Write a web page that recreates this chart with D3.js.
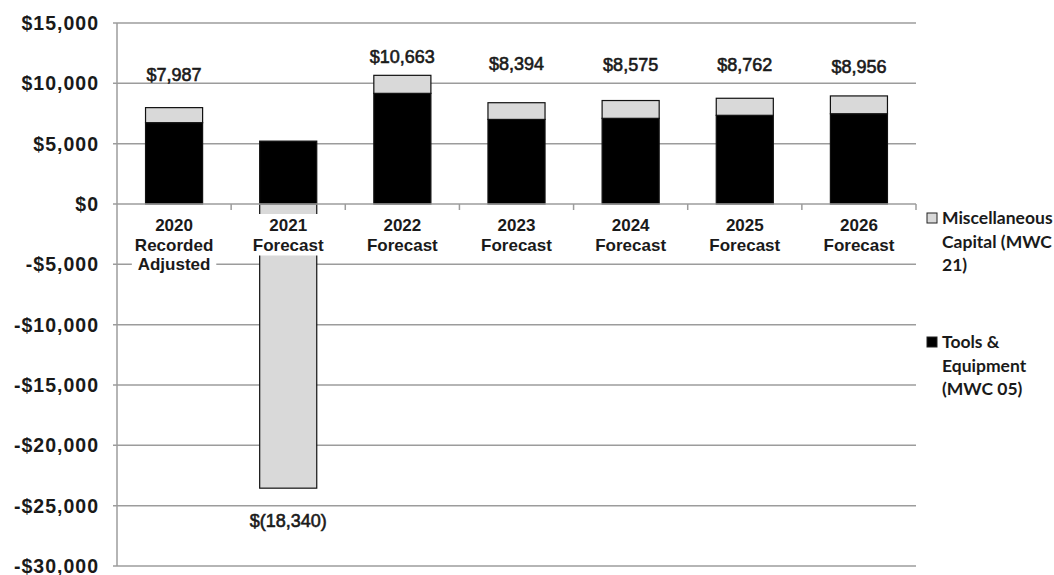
<!DOCTYPE html>
<html>
<head>
<meta charset="utf-8">
<script src="https://cdn.jsdelivr.net/npm/d3@7"></script>
<style>
  body { margin: 0; background: #fff; }
  svg { display: block; }
</style>
</head>
<body>
<svg id="chart" width="1054" height="575"></svg>
<script>
// Capital spending by year (thousands of dollars)
const categories = ["2020\nRecorded\nAdjusted", "2021\nForecast", "2022\nForecast", "2023\nForecast",
                    "2024\nForecast", "2025\nForecast", "2026\nForecast"];
const toolsEquipment = [6740, 5210, 9170, 7010, 7100, 7350, 7480];       // MWC 05
const miscCapital    = [1247, -23550, 1493, 1384, 1475, 1412, 1476];     // MWC 21
const yTicks = [15000, 10000, 5000, 0, -5000, -10000, -15000, -20000, -25000, -30000];
const legendItems = [
  { key: "misc",  lines: ["Miscellaneous", "Capital (MWC", "21)"] },
  { key: "tools", lines: ["Tools &", "Equipment", "(MWC 05)"] }
];

// label gap from the end of each stacked bar, in pixels
const labelGap = [33, 32, 19, 39, 36, 34, 29];

const colors = { tools: "#000000", misc: "#d9d9d9" };
const plot = { left: 117, right: 916, top: 23, bottom: 566 };

const svg = d3.select("#chart");

const rows = categories.map((c, i) => ({ cat: c, tools: toolsEquipment[i], misc: miscCapital[i] }));
const totals = rows.map(r => r.tools + r.misc);

const x = d3.scaleBand()
  .domain(categories)
  .range([plot.left, plot.right])
  .paddingInner(0.5)
  .paddingOuter(0.25);

const y = d3.scaleLinear()
  .domain([d3.min(yTicks), d3.max(yTicks)])
  .range([plot.bottom, plot.top]);

const gridColor = "#9c9c9c";

// horizontal gridlines
svg.append("g")
  .selectAll("line")
  .data(yTicks.filter(v => v !== 0))
  .join("line")
  .attr("x1", plot.left - 4)
  .attr("x2", plot.right)
  .attr("y1", d => y(d))
  .attr("y2", d => y(d))
  .attr("stroke", gridColor)
  .attr("stroke-width", 1.5);

// stacked bars (diverging so the negative portion hangs below zero)
const series = d3.stack()
  .keys(["tools", "misc"])
  .offset(d3.stackOffsetDiverging)(rows);

svg.append("g")
  .selectAll("g")
  .data(series)
  .join("g")
  .attr("fill", d => colors[d.key])
  .selectAll("rect")
  .data(d => d)
  .join("rect")
  .attr("x", d => x(d.data.cat))
  .attr("width", x.bandwidth())
  .attr("y", d => y(Math.max(d[0], d[1])))
  .attr("height", d => Math.abs(y(d[0]) - y(d[1])))
  .attr("stroke", "#111")
  .attr("stroke-width", 1.2);

// category axis along zero
const zeroY = y(0);
svg.append("line")
  .attr("x1", plot.left - 4).attr("x2", plot.right)
  .attr("y1", zeroY).attr("y2", zeroY)
  .attr("stroke", gridColor).attr("stroke-width", 1.5);

svg.append("g")
  .selectAll("line")
  .data(d3.range(1, categories.length + 1))
  .join("line")
  .attr("x1", i => plot.left + i * x.step())
  .attr("x2", i => plot.left + i * x.step())
  .attr("y1", zeroY)
  .attr("y2", zeroY + 6)
  .attr("stroke", gridColor)
  .attr("stroke-width", 1.5);

// category labels on white boxes
const catG = svg.append("g")
  .selectAll("g")
  .data(categories)
  .join("g")
  .attr("transform", d => `translate(${x(d) + x.bandwidth() / 2},${zeroY})`);

const catText = catG.append("text")
  .attr("text-anchor", "middle")
  .attr("font-family", "'Liberation Sans', Arial, sans-serif")
  .attr("font-weight", "bold")
  .attr("font-size", 17)
  .attr("fill", "#1a1a1a");

catText.selectAll("tspan")
  .data(d => d.split("\n"))
  .join("tspan")
  .attr("x", 0)
  .attr("y", (d, i) => 27 + i * 19.5)
  .text(d => d);

catG.each(function () {
  const g = d3.select(this);
  const bb = g.select("text").node().getBBox();
  g.insert("rect", "text")
    .attr("x", bb.x - 3)
    .attr("y", bb.y - 2)
    .attr("width", bb.width + 6)
    .attr("height", bb.height + 3)
    .attr("fill", "#fff");
});

// value axis line
svg.append("line")
  .attr("x1", plot.left).attr("x2", plot.left)
  .attr("y1", plot.top).attr("y2", plot.bottom)
  .attr("stroke", gridColor).attr("stroke-width", 1.5);

const fmt = d3.format(",");
svg.append("g")
  .selectAll("text")
  .data(yTicks)
  .join("text")
  .attr("x", 99)
  .attr("y", d => y(d))
  .attr("dy", "0.36em")
  .attr("text-anchor", "end")
  .attr("font-family", "'Liberation Sans', Arial, sans-serif")
  .attr("font-weight", "bold")
  .attr("font-size", 19.5)
  .attr("letter-spacing", 1)
  .attr("fill", "#1a1a1a")
  .text(d => (d < 0 ? "-$" : "$") + fmt(Math.abs(d)));

// total labels
svg.append("g")
  .selectAll("text")
  .data(rows)
  .join("text")
  .attr("x", d => x(d.cat) + x.bandwidth() / 2)
  .attr("y", (d, i) => {
    const t = totals[i];
    const end = t >= 0 ? y(d.tools + Math.max(d.misc, 0)) : y(Math.min(d.tools, 0) + d.misc);
    return t >= 0 ? end - labelGap[i] : end + labelGap[i];
  })
  .attr("dy", "0.36em")
  .attr("text-anchor", "middle")
  .attr("font-family", "'Liberation Sans', Arial, sans-serif")
  .attr("font-size", 18)
  .attr("fill", "#1a1a1a")
  .attr("stroke", "#1a1a1a")
  .attr("stroke-width", 0.6)
  .text((d, i) => totals[i] < 0 ? "$(" + fmt(-totals[i]) + ")" : "$" + fmt(totals[i]));

// legend
const legend = svg.append("g")
  .selectAll("g")
  .data(legendItems)
  .join("g")
  .attr("transform", (d, i) => `translate(927,${218 + i * 124})`);

legend.append("rect")
  .attr("x", 0).attr("y", -5)
  .attr("width", 10).attr("height", 10)
  .attr("fill", d => colors[d.key])
  .attr("stroke", "#222")
  .attr("stroke-width", 1);

legend.append("text")
  .attr("font-family", "Lato, 'Open Sans', sans-serif")
  .attr("font-weight", "bold")
  .attr("font-size", 17.5)
  .attr("fill", "#1a1a1a")
  .selectAll("tspan")
  .data(d => d.lines)
  .join("tspan")
  .attr("x", 15)
  .attr("y", (d, i) => i * 23.5)
  .attr("dy", "0.36em")
  .text(d => d);
</script>
</body>
</html>
